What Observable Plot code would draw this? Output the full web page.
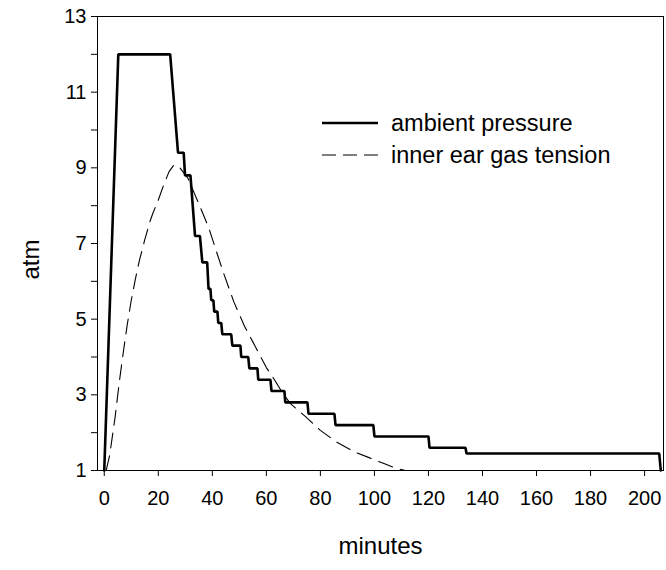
<!DOCTYPE html>
<html>
<head>
<meta charset="utf-8">
<script src="https://cdn.jsdelivr.net/npm/d3@7"></script>
<script src="https://cdn.jsdelivr.net/npm/@observablehq/plot@0.6"></script>
<style>
  html, body { margin: 0; padding: 0; background: #fff; }
  #wrap { position: relative; width: 666px; height: 570px; font-family: "Liberation Sans", Arial, sans-serif; }
  #legend { position: absolute; left: 322px; top: 107px; font-size: 23.5px; color: #000; }
  .row { display: flex; align-items: center; height: 32px; white-space: nowrap; }
  .row svg { margin-right: 13px; }
</style>
</head>
<body>
<div id="wrap">
  <div id="chart"></div>
  <div id="legend"></div>
</div>
<script>
// Ambient pressure (atm) vs time (minutes)
const ambientTime = [0, 5.2, 24.4, 27.3, 29.4, 29.9, 31.9, 33.6, 35.4, 36.3, 38.1, 38.6, 39.3, 39.6, 40.4, 40.7, 41.9, 42.2, 43.3, 43.7, 47.0, 47.4, 50.4, 50.7, 53.3, 53.7, 56.7, 57.0, 61.5, 61.9, 66.7, 67.0, 75.2, 75.6, 85.2, 85.6, 99.6, 100.0, 120.0, 120.4, 133.7, 134.1, 205.4, 206.0];
const ambientPressure = [1, 12, 12, 9.4, 9.4, 8.8, 8.8, 7.2, 7.2, 6.5, 6.5, 5.8, 5.8, 5.5, 5.5, 5.2, 5.2, 4.9, 4.9, 4.6, 4.6, 4.3, 4.3, 4.0, 4.0, 3.7, 3.7, 3.4, 3.4, 3.1, 3.1, 2.8, 2.8, 2.5, 2.5, 2.2, 2.2, 1.9, 1.9, 1.6, 1.6, 1.45, 1.45, 1.0];

// Inner ear gas tension (atm) vs time (minutes)
const earTime = [0.7, 2, 3, 4, 5.5, 7, 8.5, 10, 11.5, 13, 15, 17, 18, 20, 22, 24, 25.8, 28, 31, 35, 38.6, 41.7, 44, 48, 52, 55, 60, 63, 66, 69, 74.4, 80, 86, 93, 98, 104, 108, 111.5];
const earTension = [1, 1.4, 1.9, 2.4, 3.3, 4.1, 4.85, 5.5, 6.05, 6.55, 7.1, 7.6, 7.8, 8.15, 8.55, 8.9, 9.08, 9.0, 8.72, 8.05, 7.43, 6.75, 6.25, 5.45, 4.8, 4.4, 3.72, 3.4, 3.05, 2.76, 2.43, 2.06, 1.75, 1.48, 1.34, 1.17, 1.06, 1.0];

const seriesNames = ["ambient pressure", "inner ear gas tension"];
const xTicks = [0, 20, 40, 60, 80, 100, 120, 140, 160, 180, 200];
const yMajorTicks = [1, 3, 5, 7, 9, 11, 13];
const yMinorTicks = [2, 4, 6, 8, 10, 12];
const xTitle = "minutes";
const yTitle = "atm";

const ambient = ambientTime.map((t, i) => ({t, v: ambientPressure[i]}));
const ear = earTime.map((t, i) => ({t, v: earTension[i]}));

const font = "Liberation Sans, Arial, sans-serif";

const chart = Plot.plot({
  width: 666,
  height: 570,
  marginLeft: 97,
  marginRight: 3,
  marginTop: 16,
  marginBottom: 100,
  style: {fontFamily: font, fontSize: "20px", color: "#000", background: "#fff"},
  x: {domain: [-2.5, 207], ticks: xTicks},
  y: {domain: [1, 13]},
  marks: [
    Plot.frame({stroke: "#000", strokeWidth: 1}),
    Plot.axisX({ticks: xTicks, tickSize: 6, tickPadding: 14, fontSize: 20, label: null}),
    Plot.axisY({ticks: yMajorTicks, tickSize: 6, tickPadding: 5, fontSize: 20, label: null}),
    Plot.axisY({ticks: yMinorTicks, tickSize: 6, tickFormat: () => "", label: null}),
    Plot.text([xTitle], {frameAnchor: "bottom", dy: 83, fontSize: 24, text: d => d}),
    Plot.text([yTitle], {frameAnchor: "left", dx: -66, dy: 36, rotate: -90, fontSize: 24, text: d => d}),
    Plot.line(ear, {x: "t", y: "v", stroke: "#000", strokeWidth: 1.1, strokeDasharray: "15,8"}),
    Plot.line(ambient, {x: "t", y: "v", stroke: "#000", strokeWidth: 2.6, strokeLinejoin: "miter"})
  ]
});
document.getElementById("chart").appendChild(chart);

// Legend (inside plot area)
const legend = document.getElementById("legend");
const dashes = ["none", "14,7"];
const widths = [2.6, 1.1];
seriesNames.forEach((name, i) => {
  const row = document.createElement("div");
  row.className = "row";
  row.innerHTML = `<svg width="56" height="6"><line x1="0" x2="56" y1="3" y2="3" stroke="#000" stroke-width="${widths[i]}" stroke-dasharray="${dashes[i]}"/></svg><span>${name}</span>`;
  legend.appendChild(row);
});
</script>
</body>
</html>
